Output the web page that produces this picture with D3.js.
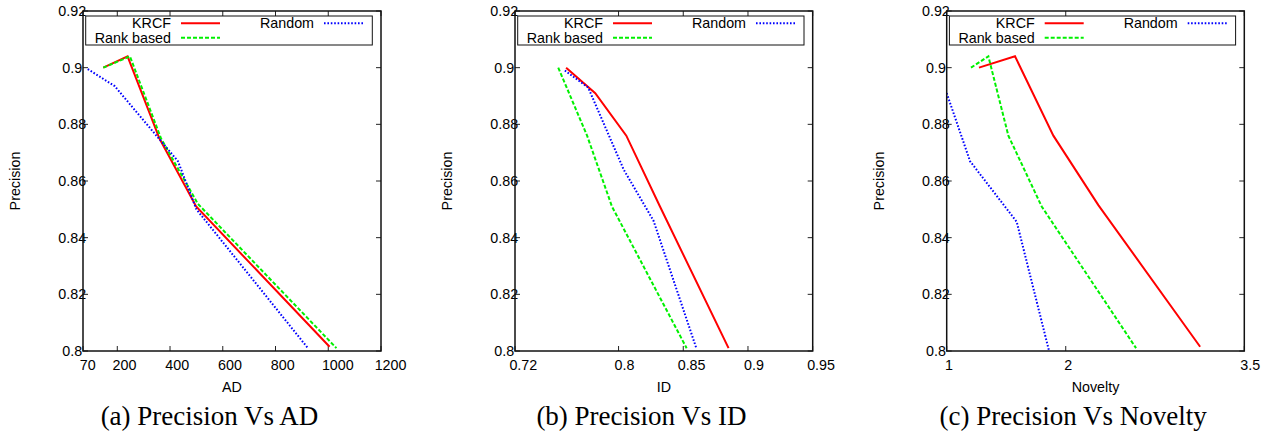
<!DOCTYPE html>
<html>
<head>
<meta charset="utf-8">
<script src="https://cdn.jsdelivr.net/npm/d3@7"></script>
<style>
  body { margin: 0; background: #fff; }
  text { font-family: "Liberation Sans", Arial, sans-serif; }
</style>
</head>
<body>
<div id="chart"></div>
<script>
var width = 1275;
var height = 434;

// precision axis shared by the three plots
var precisionTicks = [0.8, 0.82, 0.84, 0.86, 0.88, 0.9, 0.92];

var adTicks = [70, 200, 400, 600, 800, 1000, 1200];
var idTicks = [0.72, 0.8, 0.85, 0.9, 0.95];
var noveltyTicks = [1, 2, 3.5];

// [x, precision]
var krcfAD = [[147, 0.900], [239, 0.904], [360, 0.875], [499, 0.851], [1005, 0.8015]];
var rankAD = [[147, 0.900], [248, 0.904], [366, 0.875], [505, 0.852], [1031, 0.801]];
var randomAD = [[88, 0.8995], [190, 0.8935], [430, 0.867], [500, 0.850], [923, 0.801]];

var krcfID = [[0.7595, 0.900], [0.782, 0.891], [0.806, 0.876], [0.832, 0.851], [0.885, 0.801]];
var rankID = [[0.7534, 0.900], [0.7757, 0.876], [0.7949, 0.851], [0.8526, 0.801]];
var randomID = [[0.7585, 0.899], [0.7765, 0.893], [0.804, 0.864], [0.827, 0.846], [0.8603, 0.8007]];

var krcfNov = [[1.271, 0.900], [1.574, 0.904], [1.896, 0.876], [2.274, 0.8515], [3.129, 0.8015]];
var rankNov = [[1.204, 0.900], [1.350, 0.904], [1.518, 0.876], [1.798, 0.851], [2.591, 0.801]];
var randomNov = [[1.0, 0.891], [1.196, 0.867], [1.588, 0.8456], [1.860, 0.800]];

var seriesNames = ['KRCF', 'Rank based', 'Random'];

var panels = [
  { left: 83, right: 381, domain: [70, 1200], ticks: adTicks, xLabel: 'AD',
    caption: '(a) Precision Vs AD', data: [krcfAD, rankAD, randomAD] },
  { left: 515, right: 812.7, domain: [0.72, 0.95], ticks: idTicks, xLabel: 'ID',
    caption: '(b) Precision Vs ID', data: [krcfID, rankID, randomID] },
  { left: 946.7, right: 1244.3, domain: [1, 3.5], ticks: noveltyTicks, xLabel: 'Novelty',
    caption: '(c) Precision Vs Novelty', data: [krcfNov, rankNov, randomNov] }
];

var styles = [
  { color: '#ff0000', dash: null },
  { color: '#00f000', dash: '4,2' },
  { color: '#0000ff', dash: '1.6,1.8' }
];

var plotTop = 11, plotBottom = 351;
var fs = 14.3;

var svg = d3.select('#chart').append('svg')
  .attr('width', width)
  .attr('height', height);

var y = d3.scaleLinear()
  .domain([0.8, 0.92])
  .range([plotBottom, plotTop]);

panels.forEach(function(p, pi) {
  var x = d3.scaleLinear().domain(p.domain).range([p.left, p.right]);
  var g = svg.append('g');

  // ticks (inward, mirrored)
  p.ticks.forEach(function(t) {
    var tx = x(t);
    g.append('line').attr('x1', tx).attr('x2', tx).attr('y1', plotBottom).attr('y2', plotBottom - 5)
      .attr('stroke', '#222').attr('stroke-width', 1);
    g.append('line').attr('x1', tx).attr('x2', tx).attr('y1', plotTop).attr('y2', plotTop + 5)
      .attr('stroke', '#222').attr('stroke-width', 1);
    var lab = g.append('text')
      .attr('y', 370)
      .attr('font-size', fs)
      .attr('text-anchor', 'middle')
      .text(t);
    var w = lab.node().getComputedTextLength();
    lab.attr('x', tx + 0.3 * w);
  });

  precisionTicks.forEach(function(t) {
    var ty = y(t);
    g.append('line').attr('x1', p.left).attr('x2', p.left + 5).attr('y1', ty).attr('y2', ty)
      .attr('stroke', '#222').attr('stroke-width', 1);
    g.append('line').attr('x1', p.right).attr('x2', p.right - 5).attr('y1', ty).attr('y2', ty)
      .attr('stroke', '#222').attr('stroke-width', 1);
    g.append('text')
      .attr('x', p.left - 10.8)
      .attr('y', ty + 5)
      .attr('font-size', fs)
      .attr('text-anchor', 'middle')
      .text(t);
  });

  // lines
  var line = d3.line()
    .x(function(d) { return x(d[0]); })
    .y(function(d) { return y(d[1]); });

  g.append('clipPath').attr('id', 'clip' + pi)
    .append('rect').attr('x', p.left).attr('y', plotTop)
    .attr('width', p.right - p.left).attr('height', plotBottom - plotTop);

  p.data.forEach(function(series, i) {
    g.append('path')
      .attr('d', line(series))
      .attr('fill', 'none')
      .attr('stroke', styles[i].color)
      .attr('stroke-width', 2)
      .attr('stroke-dasharray', styles[i].dash)
      .attr('clip-path', 'url(#clip' + pi + ')');
  });

  // frame
  g.append('rect')
    .attr('x', p.left).attr('y', plotTop)
    .attr('width', p.right - p.left).attr('height', plotBottom - plotTop)
    .attr('fill', 'none').attr('stroke', '#111').attr('stroke-width', 1.5);

  // legend
  var bx = p.left + 2.7;
  var leg = g.append('g');
  leg.append('rect')
    .attr('x', bx).attr('y', 16)
    .attr('width', (p.right - 8.7) - bx).attr('height', 29)
    .attr('fill', '#fff').attr('stroke', '#111').attr('stroke-width', 1);

  var legPos = [
    { tx: bx + 85.3, ly: 23.3 },
    { tx: bx + 85.3, ly: 37.7 },
    { tx: bx + 228.3, ly: 23.3 }
  ];
  seriesNames.forEach(function(name, i) {
    var lp = legPos[i];
    leg.append('text')
      .attr('x', lp.tx).attr('y', lp.ly + 5)
      .attr('font-size', fs)
      .attr('text-anchor', 'end')
      .text(name);
    leg.append('line')
      .attr('x1', lp.tx + 10).attr('x2', lp.tx + 49)
      .attr('y1', lp.ly).attr('y2', lp.ly)
      .attr('stroke', styles[i].color)
      .attr('stroke-width', 2)
      .attr('stroke-dasharray', styles[i].dash);
  });

  // axis titles
  g.append('text')
    .attr('x', (p.left + p.right) / 2)
    .attr('y', 391.5)
    .attr('font-size', fs)
    .attr('text-anchor', 'middle')
    .text(p.xLabel);

  g.append('text')
    .attr('transform', 'translate(' + (p.left - 63) + ',' + ((plotTop + plotBottom) / 2) + ') rotate(-90)')
    .attr('font-size', fs)
    .attr('text-anchor', 'middle')
    .text('Precision');

  g.append('text')
    .attr('x', p.left + 126.5)
    .attr('y', 425)
    .attr('font-size', 27)
    .attr('text-anchor', 'middle')
    .style('font-family', '"Liberation Serif", "Times New Roman", serif')
    .text(p.caption);
});
</script>
</body>
</html>
